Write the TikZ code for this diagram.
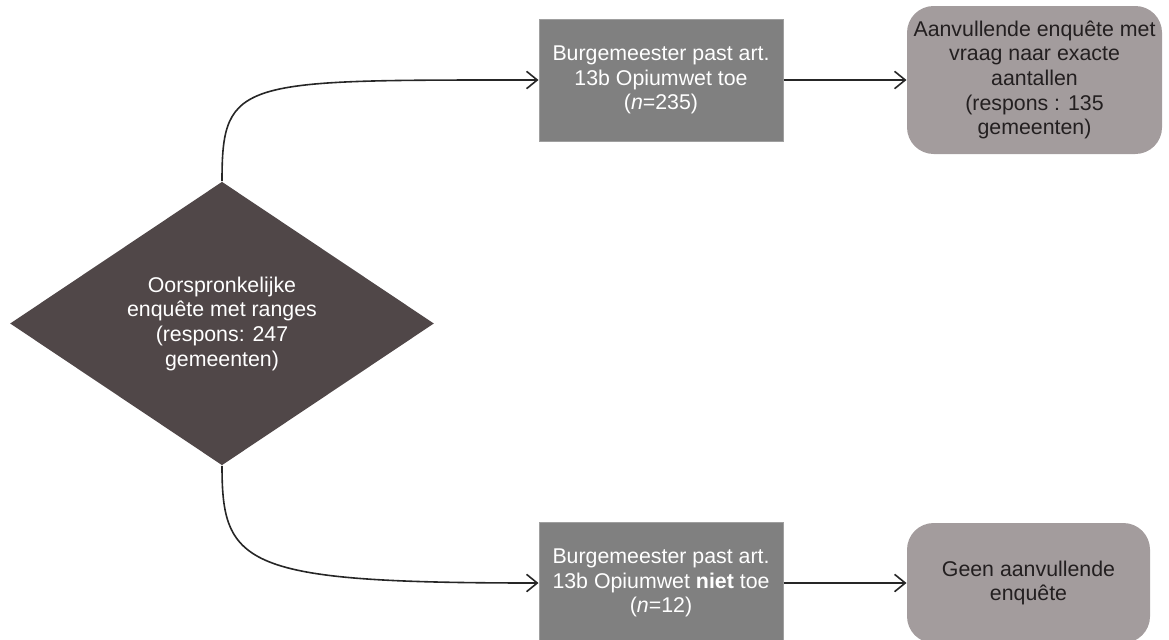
\documentclass[tikz,border=0pt]{standalone}
\usepackage{fontspec}
\setmainfont{Liberation Sans}
\usetikzlibrary{shapes.geometric,arrows.meta}
\definecolor{diafill}{RGB}{80,71,72}
\definecolor{boxfill}{RGB}{128,128,128}
\definecolor{endfill}{RGB}{163,156,157}
\definecolor{endtext}{RGB}{35,31,32}
\tikzset{every picture/.style={line width=0.75pt}}

\begin{document}
\begin{tikzpicture}[x=0.75pt,y=0.75pt,yscale=-1,xscale=1,
	txt/.style={font=\fontsize{16}{18.5}\selectfont, align=center, inner sep=0pt},
	choice/.style={txt, diamond, fill=diafill, text=white, minimum width=318pt, minimum height=210.75pt},
	actbox/.style={txt, rectangle, fill=boxfill, draw=gray!75, text=white, minimum width=183pt, minimum height=91.5pt},
	endbox/.style={txt, rectangle, rounded corners=20pt, fill=endfill, text=endtext},
	flow/.style={draw=black!85, line width=1.2pt, -{Straight Barb[length=8pt,width=13pt]}}]
	\useasboundingbox (0,0) rectangle (1169,639);
	
	%Decision
	\node [choice] (orig) at (222,323.5) {Oorspronkelijke\\enquête met ranges\\(respons: 247\\gemeenten)};
	
	%Middle boxes
	\node [actbox] (wel) at (661,80) {Burgemeester past art.\\13b Opiumwet toe\\(\textit{n}=235)};
	\node [actbox] (niet) at (661,583) {Burgemeester past art.\\13b Opiumwet \textbf{niet} toe\\(\textit{n}=12)};
	
	%End boxes
	\node [endbox, minimum width=191.25pt, minimum height=111pt] (extra) at (1034.5,80) {Aanvullende enquête met\\vraag naar exacte\\aantallen\\(respons : 135\\gemeenten)};
	\node [endbox, minimum width=182.25pt, minimum height=90pt] (geen) at (1028.5,583) {Geen aanvullende\\enquête};
	
	%Connectors
	\draw [flow] (orig.north) .. controls +(0,-103) and +(-299,0) .. (wel.west);
	\draw [flow] (orig.south) .. controls +(0,100) and +(-295,0) .. (niet.west);
	\draw [flow] (wel.east) -- (extra.west);
	\draw [flow] (niet.east) -- (geen.west);
\end{tikzpicture}
\end{document}
